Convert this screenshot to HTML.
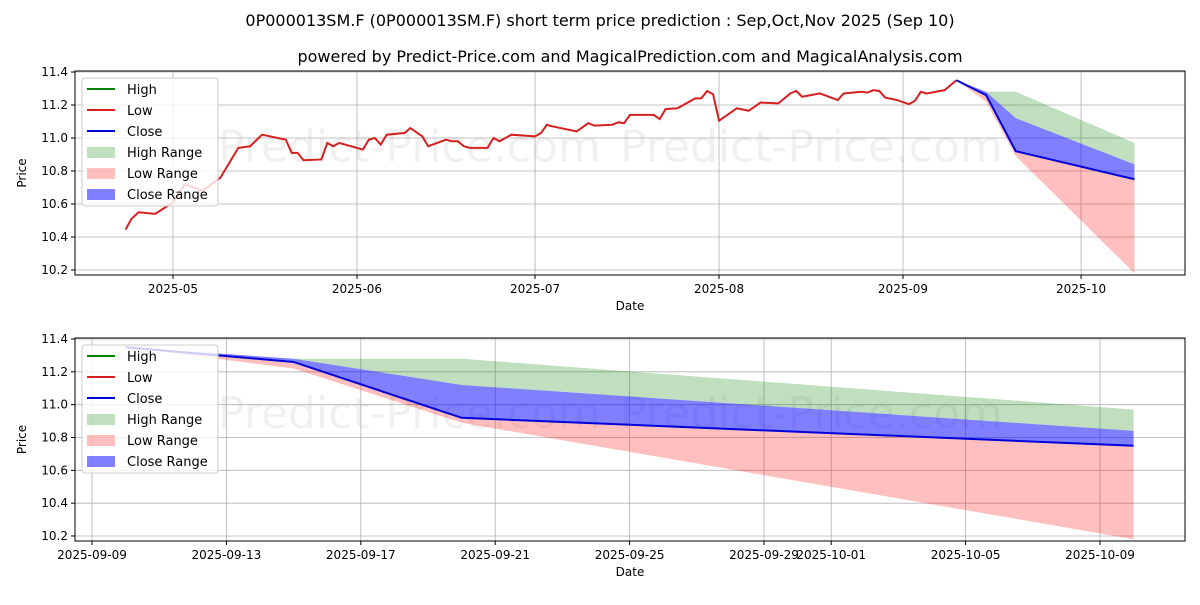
<!DOCTYPE html>
<html><head><meta charset="utf-8"><style>
body{margin:0;background:#fff;}
svg text{font-family:"DejaVu Sans","Liberation Sans",sans-serif;}
</style></head><body>
<svg id="c" width="1200" height="600" xmlns="http://www.w3.org/2000/svg">
<rect width="1200" height="600" fill="#fff"/>
<text x="600" y="26" text-anchor="middle" font-size="16">0P000013SM.F (0P000013SM.F) short term price prediction : Sep,Oct,Nov 2025 (Sep 10)</text>
<text x="630" y="62" text-anchor="middle" font-size="16">powered by Predict-Price.com and MagicalPrediction.com and MagicalAnalysis.com</text>
<g id="top"></g>
<g id="bot"></g>
</svg>
<script>
// history: days since 2025-05-01
const histDays=[-8,-7,-5.8,-3,0,2,5,8,11,13,15,19,20,21,22,25,26,27,28,32,33,34,35,36,39,40,42,43,46,47,48,49,50,53,54,55,57,61,62,63,64,68,70,71,74,75,76,77,81,82,83,85,88,89,90,91,92,95,97,99,102,104,105,106,109,112,113,116,117,118,119,120,122,124,125,126,127,130,132];
const histLow=[10.445,10.51,10.55,10.54,10.61,10.72,10.68,10.76,10.94,10.95,11.02,10.99,10.91,10.91,10.865,10.87,10.97,10.95,10.97,10.93,10.99,11.0,10.96,11.02,11.03,11.06,11.01,10.95,10.99,10.98,10.98,10.95,10.94,10.94,11.0,10.98,11.02,11.01,11.03,11.08,11.07,11.04,11.09,11.075,11.08,11.095,11.09,11.14,11.14,11.115,11.175,11.18,11.24,11.24,11.285,11.265,11.105,11.18,11.165,11.215,11.21,11.27,11.285,11.25,11.27,11.23,11.27,11.28,11.275,11.29,11.285,11.245,11.23,11.205,11.225,11.28,11.27,11.29,11.35];
// forecast: days since 2025-05-01
const fcDays=[132,137,142,162];
const fcClose=[11.35,11.26,10.92,10.75];
const fcCloseHigh=[11.35,11.28,11.12,10.84];
const fcHigh=[11.35,11.28,11.28,10.97];
const fcLow=[11.35,11.22,10.89,10.18];
const yTicks=[10.2,10.4,10.6,10.8,11.0,11.2,11.4];
const topXTicks=[[0,"2025-05"],[31,"2025-06"],[61,"2025-07"],[92,"2025-08"],[123,"2025-09"],[153,"2025-10"]];
const botXTicks=[[131,"2025-09-09"],[135,"2025-09-13"],[139,"2025-09-17"],[143,"2025-09-21"],[147,"2025-09-25"],[151,"2025-09-29"],[153,"2025-10-01"],[157,"2025-10-05"],[161,"2025-10-09"]];

const NS="http://www.w3.org/2000/svg";
function mk(p,t,a){const e=document.createElementNS(NS,t);for(const k in a)e.setAttribute(k,a[k]);p.appendChild(e);return e;}

function panel(g,top,bottom,xs,ticks,showHist){
  const L=75,R=1185;
  const ys=v=>top+1+(11.4-v)/1.2*(bottom-top-6- (top+1-top))* (1) ;
  const yScale=v=>(top+1)+(11.4-v)*((bottom-5-(top+1))/1.2)*1.0;
  const y=v=>yScale(v);
  // watermark
  [[218,y(10.95)+15],[620,y(10.95)+15]].forEach(p=>{
    const w=mk(g,'text',{x:p[0],y:p[1],'font-size':44,fill:'#000','fill-opacity':0.06});
    
    
    w.textContent='Predict-Price.com';
  });
  // grid
  ticks.forEach(t=>{
    const gl=mk(g,'line',{x1:xs(t[0]),x2:xs(t[0]),y1:top,y2:bottom,stroke:'#b0b0b0','stroke-width':0.8});
    
    
    mk(g,'line',{x1:xs(t[0]),x2:xs(t[0]),y1:bottom,y2:bottom+4,stroke:'#000'});
    const tl=mk(g,'text',{x:xs(t[0]),y:bottom+18,'text-anchor':'middle','font-size':12});
    
    
    tl.textContent=t[1];
  });
  yTicks.forEach(v=>{
    const gl=mk(g,'line',{x1:L,x2:R,y1:y(v),y2:y(v),stroke:'#b0b0b0','stroke-width':0.8});
    
    
    mk(g,'line',{x1:L-4,x2:L,y1:y(v),y2:y(v),stroke:'#000'});
    const tl=mk(g,'text',{x:L-7,y:y(v)+4,'text-anchor':'end','font-size':12});
    
    
    tl.textContent=v.toFixed(1);
  });
  const band=(a,b,col,op,name)=>{
    let d='M'+fcDays.map((dd,i)=>xs(dd)+','+y(a[i])).join('L');
    for(let i=fcDays.length-1;i>=0;i--)d+='L'+xs(fcDays[i])+','+y(b[i]);
    const p=mk(g,'path',{d:d+'Z',fill:col,'fill-opacity':op});
    
    
  };
  band(fcHigh,fcCloseHigh,'#008000',0.25,'high-range');
  band(fcClose,fcLow,'#ff0000',0.25,'low-range');
  band(fcCloseHigh,fcClose,'#0000ff',0.5,'close-range');
  if(showHist){
    const hl=mk(g,'polyline',{points:histDays.map((d,i)=>xs(d)+','+y(histLow[i])).join(' '),fill:'none',stroke:'#d62020','stroke-width':2});
    
    
  }
  const cl=mk(g,'polyline',{points:fcDays.map((d,i)=>xs(d)+','+y(fcClose[i])).join(' '),fill:'none',stroke:'#0000dd','stroke-width':2});
  
  
  const fr=mk(g,'rect',{x:L,y:top,width:R-L,height:bottom-top,fill:'none',stroke:'#000','stroke-width':1});
  
  
  const yl=mk(g,'text',{x:26,y:(top+bottom)/2,'text-anchor':'middle','font-size':12,transform:'rotate(-90 26 '+(top+bottom)/2+')'});
  
  
  yl.textContent='Price';
  const xl=mk(g,'text',{x:630,y:bottom+35,'text-anchor':'middle','font-size':12});
  
  
  xl.textContent='Date';
  // legend
  const lg=mk(g,'g',{});
  
  
  mk(lg,'rect',{x:82,y:top+7,width:136,height:128,rx:3,fill:'#fff','fill-opacity':0.8,stroke:'#ccc'});
  const items=[['High','#008000','line'],['Low','#d62020','line'],['Close','#0000dd','line'],['High Range','rgba(0,128,0,0.25)','patch'],['Low Range','rgba(255,0,0,0.25)','patch'],['Close Range','rgba(0,0,255,0.5)','patch']];
  items.forEach((it,i)=>{
    const cy=top+18+i*21;
    const e=mk(lg,'g',{});
    
    
    if(it[2]=='line')mk(e,'line',{x1:87,x2:115,y1:cy,y2:cy,stroke:it[1],'stroke-width':2});
    else mk(e,'rect',{x:87,y:cy-5,width:28,height:11,fill:it[1]});
    const t=mk(e,'text',{x:127,y:cy+5,'font-size':13});
    t.textContent=it[0];
  });
}
const topXs=d=>173+d*5.935;
const botXs=d=>92+(d-131)*33.6;
panel(document.getElementById('top'),71,275,topXs,topXTicks,true);
panel(document.getElementById('bot'),338,541,botXs,botXTicks,false);
</script>
</body></html>
